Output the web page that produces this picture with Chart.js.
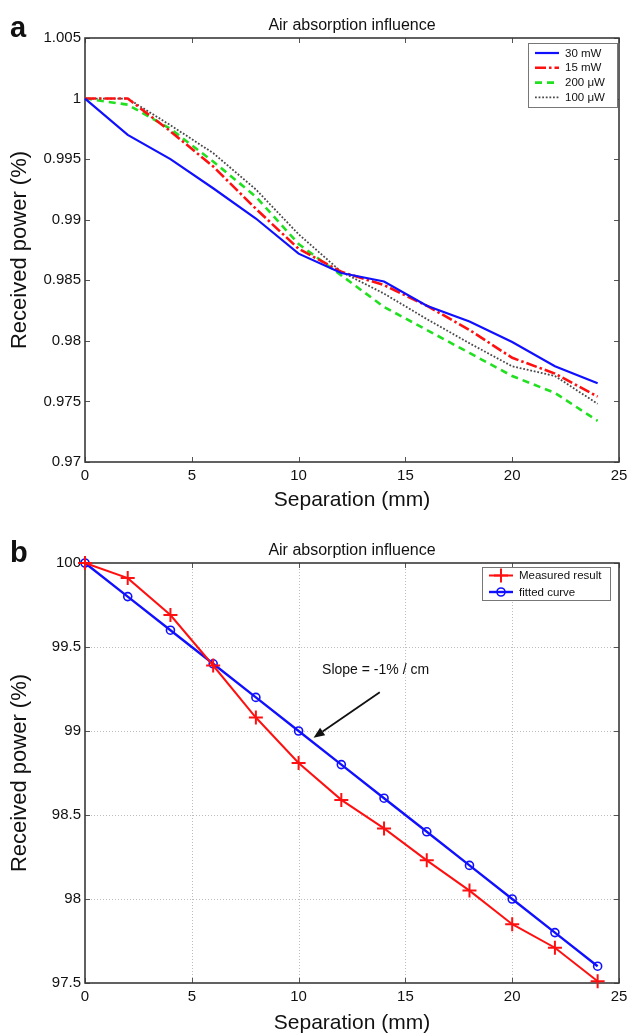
<!DOCTYPE html>
<html><head><meta charset="utf-8">
<script src="https://cdn.jsdelivr.net/npm/chart.js@4.4.1/dist/chart.umd.min.js"></script>
<style>
html,body{margin:0;padding:0;background:#fff;}
#wrap{position:relative;width:633px;height:1036px;overflow:hidden;}
canvas{position:absolute;left:0;}
</style></head><body>
<div id="wrap">
<canvas id="c1" width="633" height="518" style="top:0;width:633px;height:518px"></canvas>
<canvas id="c2" width="633" height="518" style="top:518px;width:633px;height:518px"></canvas>
</div>
<script>
// ---------- data ----------
const separation = [0, 2, 4, 6, 8, 10, 12, 14, 16, 18, 20, 22, 24];
// panel a
const power30mW  = [1.0, 0.9970, 0.9950, 0.9926, 0.9901, 0.9872, 0.9856, 0.9849, 0.9829, 0.9816, 0.9799, 0.9779, 0.9765];
const power15mW  = [1.0, 1.0000, 0.9973, 0.9944, 0.9909, 0.9876, 0.9857, 0.9846, 0.9829, 0.9809, 0.9786, 0.9773, 0.9754];
const power200uW = [1.0, 0.9995, 0.9975, 0.9948, 0.9919, 0.9880, 0.9854, 0.9828, 0.9809, 0.9790, 0.9771, 0.9757, 0.9734];
const power100uW = [1.0, 1.0000, 0.9978, 0.9955, 0.9925, 0.9888, 0.9857, 0.9839, 0.9818, 0.9798, 0.9779, 0.9771, 0.9748];
// panel b
const measuredResult = [100, 99.91, 99.69, 99.39, 99.08, 98.81, 98.59, 98.42, 98.23, 98.05, 97.85, 97.71, 97.51];
const fittedCurve    = [100, 99.8, 99.6, 99.4, 99.2, 99.0, 98.8, 98.6, 98.4, 98.2, 98.0, 97.8, 97.6];
// ticks
const xTickValues = [0, 5, 10, 15, 20, 25];
const xTickLabels = ['0', '5', '10', '15', '20', '25'];
const yTickValuesA = [0.97, 0.975, 0.98, 0.985, 0.99, 0.995, 1.0, 1.005];
const yTickLabelsA = ['0.97', '0.975', '0.98', '0.985', '0.99', '0.995', '1', '1.005'];
const yTickValuesB = [97.5, 98, 98.5, 99, 99.5, 100];
const yTickLabelsB = ['97.5', '98', '98.5', '99', '99.5', '100'];
// text
const chartTitle = 'Air absorption influence';
const xTitle = 'Separation (mm)';
const yTitle = 'Received power (%)';
const seriesLabelsA = ['30 mW', '15 mW', '200 \u03bcW', '100 \u03bcW'];
const seriesLabelsB = ['Measured result', 'fitted curve'];
const slopeNote = 'Slope = -1% / cm';

const FONT = '"Liberation Sans", Arial, Helvetica, sans-serif';

function pts(ys) { return separation.map((x, i) => ({x: x, y: ys[i]})); }

function drawMarker(ctx, style, x, y, r, color, lw) {
  ctx.save();
  ctx.strokeStyle = color; ctx.lineWidth = lw; ctx.setLineDash([]);
  ctx.beginPath();
  if (style === 'cross') {
    ctx.moveTo(x - r, y); ctx.lineTo(x + r, y);
    ctx.moveTo(x, y - r); ctx.lineTo(x, y + r);
  } else if (style === 'circle') {
    ctx.arc(x, y, r, 0, Math.PI * 2);
  }
  ctx.stroke();
  ctx.restore();
}

const matlabAxes = {
  id: 'matlabAxes',
  beforeDatasetsDraw(chart, args, o) {
    const {ctx, chartArea: a, scales: {x, y}} = chart;
    ctx.save();
    if (o.grid) {
      ctx.strokeStyle = '#bdbdbd'; ctx.lineWidth = 1; ctx.setLineDash([1, 2]);
      x.ticks.forEach(t => {
        const px = Math.round(x.getPixelForValue(t.value)) + 0.5;
        if (px > a.left + 2 && px < a.right - 2) { ctx.beginPath(); ctx.moveTo(px, a.top); ctx.lineTo(px, a.bottom); ctx.stroke(); }
      });
      y.ticks.forEach(t => {
        const py = Math.round(y.getPixelForValue(t.value)) + 0.5;
        if (py > a.top + 2 && py < a.bottom - 2) { ctx.beginPath(); ctx.moveTo(a.left, py); ctx.lineTo(a.right, py); ctx.stroke(); }
      });
    }
    ctx.setLineDash([]);
    ctx.strokeStyle = '#555'; ctx.lineWidth = 1;
    const tl = 5;
    x.ticks.forEach(t => {
      const px = Math.round(x.getPixelForValue(t.value)) + 0.5;
      ctx.beginPath(); ctx.moveTo(px, a.bottom); ctx.lineTo(px, a.bottom - tl);
      ctx.moveTo(px, a.top); ctx.lineTo(px, a.top + tl); ctx.stroke();
    });
    y.ticks.forEach(t => {
      const py = Math.round(y.getPixelForValue(t.value)) + 0.5;
      ctx.beginPath(); ctx.moveTo(a.left, py); ctx.lineTo(a.left + tl, py);
      ctx.moveTo(a.right, py); ctx.lineTo(a.right - tl, py); ctx.stroke();
    });
    ctx.strokeStyle = '#3a3a3a'; ctx.lineWidth = 1.6;
    ctx.strokeRect(a.left, a.top, a.right - a.left, a.bottom - a.top);
    ctx.restore();
  },
  afterDraw(chart, args, o) {
    const {ctx, chartArea: a, scales: {x, y}} = chart;
    ctx.save();
    // title
    ctx.fillStyle = '#111';
    ctx.font = '16px ' + FONT;
    ctx.textAlign = 'center'; ctx.textBaseline = 'alphabetic';
    ctx.fillText(chartTitle, (a.left + a.right) / 2, a.top - 8);
    // panel letter
    ctx.font = 'bold 29px ' + FONT;
    ctx.textAlign = 'left';
    ctx.fillText(o.panel, 10, a.top - 1);
    // annotation
    if (o.note) {
      const n = o.note;
      ctx.font = '14px ' + FONT;
      ctx.textAlign = 'left'; ctx.textBaseline = 'middle';
      ctx.fillText(n.text, x.getPixelForValue(n.tx), y.getPixelForValue(n.ty));
      const x1 = x.getPixelForValue(n.from[0]), y1 = y.getPixelForValue(n.from[1]);
      const x2 = x.getPixelForValue(n.to[0]), y2 = y.getPixelForValue(n.to[1]);
      ctx.strokeStyle = '#111'; ctx.lineWidth = 1.8;
      const ang = Math.atan2(y2 - y1, x2 - x1);
      const hl = 11, hw = 4.5;
      const bx = x2 - hl * Math.cos(ang), by = y2 - hl * Math.sin(ang);
      ctx.beginPath(); ctx.moveTo(x1, y1); ctx.lineTo(bx, by); ctx.stroke();
      ctx.fillStyle = '#111';
      ctx.beginPath();
      ctx.moveTo(x2, y2);
      ctx.lineTo(bx + hw * Math.sin(ang), by - hw * Math.cos(ang));
      ctx.lineTo(bx - hw * Math.sin(ang), by + hw * Math.cos(ang));
      ctx.closePath(); ctx.fill();
    }
    // legend
    const L = o.legend;
    ctx.fillStyle = '#fff';
    ctx.fillRect(L.x, L.y, L.w, L.h);
    ctx.strokeStyle = '#777'; ctx.lineWidth = 1;
    ctx.strokeRect(L.x + 0.5, L.y + 0.5, L.w, L.h);
    ctx.font = '11.5px ' + FONT;
    ctx.textAlign = 'left'; ctx.textBaseline = 'middle';
    chart.data.datasets.forEach((ds, i) => {
      const ry = L.y + L.first + i * L.step;
      ctx.save();
      ctx.strokeStyle = ds.borderColor; ctx.lineWidth = ds.borderWidth;
      ctx.setLineDash(ds.borderDash || []);
      ctx.beginPath(); ctx.moveTo(L.x + L.s0, ry); ctx.lineTo(L.x + L.s1, ry); ctx.stroke();
      ctx.restore();
      if (ds.pointRadius > 0) {
        drawMarker(ctx, ds.pointStyle, L.x + (L.s0 + L.s1) / 2, ry, ds.pointRadius, ds.borderColor, ds.pointBorderWidth);
      }
      ctx.fillStyle = '#111';
      ctx.fillText(ds.label, L.x + L.tx, ry + 0.5);
    });
    ctx.restore();
  }
};

function makeScales(yVals, yLabels, yMin, yMax, xPadBottom, xTitlePad) {
  return {
    x: {
      type: 'linear', min: 0, max: 25,
      afterBuildTicks: s => { s.ticks = xTickValues.map(v => ({value: v})); },
      afterFit: s => { s.height = xPadBottom; },
      grid: {display: false, drawTicks: false},
      border: {display: false},
      ticks: {padding: 5, color: '#111', font: {family: FONT, size: 15}, autoSkip: false, maxRotation: 0,
        callback: (v) => { const i = xTickValues.indexOf(v); return i >= 0 ? xTickLabels[i] : ''; }},
      title: {display: true, text: xTitle, color: '#111', font: {family: FONT, size: 21}, padding: {top: 0, bottom: xTitlePad}}
    },
    y: {
      type: 'linear', min: yMin, max: yMax,
      afterBuildTicks: s => { s.ticks = yVals.map(v => ({value: v})); },
      afterFit: s => { s.width = 85; },
      grid: {display: false, drawTicks: false},
      border: {display: false},
      ticks: {padding: 4, color: '#111', font: {family: FONT, size: 15}, autoSkip: false,
        callback: (v) => { const i = yVals.findIndex(t => Math.abs(t - v) < 1e-9); return i >= 0 ? yLabels[i] : ''; }},
      title: {display: true, text: yTitle, color: '#111', font: {family: FONT, size: 22}, padding: {top: 7, bottom: 0}}
    }
  };
}

const lineBase = {fill: false, tension: 0, pointRadius: 0, clip: false};

new Chart(document.getElementById('c1'), {
  type: 'line',
  data: {
    datasets: [
      Object.assign({}, lineBase, {label: seriesLabelsA[0], data: pts(power30mW), borderColor: '#1010ff', borderWidth: 2.2}),
      Object.assign({}, lineBase, {label: seriesLabelsA[1], data: pts(power15mW), borderColor: '#ff1010', borderWidth: 2.6, borderDash: [11, 3, 2.5, 3]}),
      Object.assign({}, lineBase, {label: seriesLabelsA[2], data: pts(power200uW), borderColor: '#20e020', borderWidth: 2.6, borderDash: [7, 5]}),
      Object.assign({}, lineBase, {label: seriesLabelsA[3], data: pts(power100uW), borderColor: '#4a4a4a', borderWidth: 1.8, borderDash: [1.8, 1.8]})
    ]
  },
  options: {
    responsive: false, animation: false, devicePixelRatio: 1,
    layout: {padding: {left: 0, right: 14, top: 38, bottom: 0}},
    scales: makeScales(yTickValuesA, yTickLabelsA, 0.97, 1.005, 56, 5),
    plugins: {
      legend: {display: false}, tooltip: {enabled: false}, title: {display: false},
      matlabAxes: {panel: 'a', grid: false,
        legend: {x: 528, y: 43, w: 89, h: 64, first: 10, step: 14.8, s0: 7, s1: 31, tx: 37}}
    }
  },
  plugins: [matlabAxes]
});

new Chart(document.getElementById('c2'), {
  type: 'line',
  data: {
    datasets: [
      Object.assign({}, lineBase, {label: seriesLabelsB[0], data: pts(measuredResult), borderColor: '#ff1010', borderWidth: 2,
        pointStyle: 'cross', pointRadius: 7, pointBorderWidth: 2, pointBorderColor: '#ff1010', pointBackgroundColor: '#ff1010'}),
      Object.assign({}, lineBase, {label: seriesLabelsB[1], data: pts(fittedCurve), borderColor: '#1010ff', borderWidth: 2.4,
        pointStyle: 'circle', pointRadius: 4, pointBorderWidth: 1.6, pointBorderColor: '#1010ff', pointBackgroundColor: 'rgba(0,0,0,0)'})
    ]
  },
  options: {
    responsive: false, animation: false, devicePixelRatio: 1,
    layout: {padding: {left: 0, right: 14, top: 45, bottom: 0}},
    scales: makeScales(yTickValuesB, yTickLabelsB, 97.5, 100, 53, 0),
    plugins: {
      legend: {display: false}, tooltip: {enabled: false}, title: {display: false},
      matlabAxes: {panel: 'b', grid: true,
        note: {text: slopeNote, tx: 11.1, ty: 99.36, from: [13.8, 99.23], to: [10.7, 98.96]},
        legend: {x: 482, y: 49, w: 128, h: 33, first: 8.5, step: 16.5, s0: 7, s1: 31, tx: 37}}
    }
  },
  plugins: [matlabAxes]
});
</script>
</body></html>
